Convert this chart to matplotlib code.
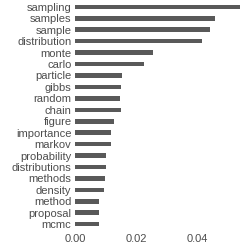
import matplotlib.pyplot as plt

# word frequencies, top to bottom
words = ["sampling", "samples", "sample", "distribution", "monte", "carlo",
         "particle", "gibbs", "random", "chain", "figure", "importance",
         "markov", "probability", "distributions", "methods", "density",
         "method", "proposal", "mcmc"]
freq = [0.0543, 0.0461, 0.0444, 0.0417, 0.0257, 0.0226,
        0.0153, 0.0150, 0.0149, 0.0150, 0.0127, 0.0118,
        0.0117, 0.0103, 0.0102, 0.0098, 0.0094,
        0.0080, 0.0080, 0.0080]
xticks = [0.00, 0.02, 0.04]
xticklabels = ["0.00", "0.02", "0.04"]

plt.rcParams['font.family'] = ['Liberation Sans', 'DejaVu Sans']

fig = plt.figure(figsize=(2.49, 2.49), dpi=100)
ax = fig.add_axes([0.301, 0.072, 0.667, 0.928])

pos = list(range(len(words)))[::-1]
ax.barh(pos, freq, height=0.4, color="#595959")

ax.set_ylim(-0.6, len(words) - 0.4)
ax.set_xlim(0, 0.0545)
ax.set_yticks(pos)
ax.set_yticklabels(words)
ax.set_xticks(xticks)
ax.set_xticklabels(xticklabels)
ax.tick_params(axis="both", length=0, labelsize=8, colors="#4D4D4D")
ax.tick_params(axis="y", pad=2.5)
ax.tick_params(axis="x", pad=2)
for s in ax.spines.values():
    s.set_visible(False)

fig.savefig("out.png", dpi=100, facecolor="white")
